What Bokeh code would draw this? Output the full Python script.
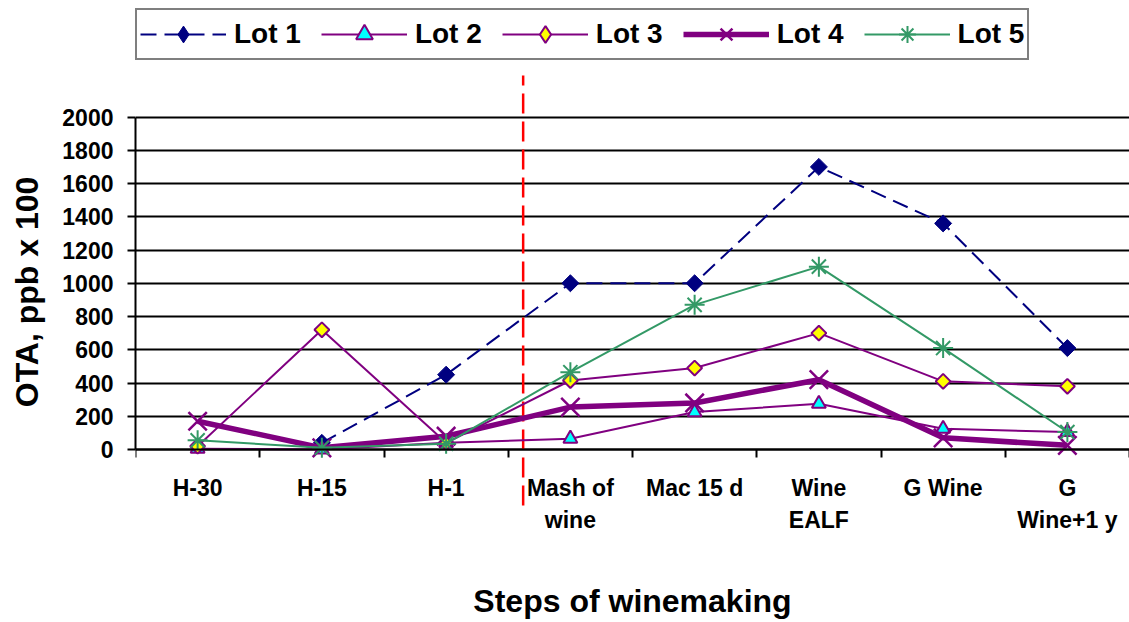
import math
from bokeh.plotting import figure
from bokeh.models import (Range1d, LinearAxis, FixedTicker, Legend, LegendItem, Title)
from bokeh.embed import file_html
from bokeh.resources import INLINE

# ---------------- data ----------------
steps = ["H-30", "H-15", "H-1", "Mash of\nwine", "Mac 15 d", "Wine\nEALF", "G Wine", "G\nWine+1 y"]
lot1 = [float("nan"), 40, 450, 1000, 1000, 1700, 1360, 610]
lot2 = [5, 0, 40, 65, 225, 275, 125, 105]
lot3 = [20, 720, 40, 415, 490, 700, 410, 380]
lot4 = [170, 10, 80, 255, 280, 420, 70, 25]
lot5 = [55, 10, 35, 465, 870, 1100, 610, 105]
series_names = ["Lot 1", "Lot 2", "Lot 3", "Lot 4", "Lot 5"]
y_ticks = [0, 200, 400, 600, 800, 1000, 1200, 1400, 1600, 1800, 2000]
y_label = "OTA,  ppb x 100"
x_label = "Steps of winemaking"
divider_at = 3.12          # red dashed divider, in category units
divider_span = (-337, 2250)

# category slot centres (category i occupies [i, i+1])
xc = [i + 0.5 for i in range(len(steps))]

# ---------------- style ----------------
FONT = "Liberation Sans"
NAVY = "#000080"
PURPLE = "#800080"
GREEN = "#339966"
CYAN = "#00FFFF"
YELLOW = "#FFFF00"

p = figure(x_range=Range1d(0, len(steps)),
           y_range=Range1d(-751.9, 2700.8),
           frame_width=994, frame_height=574,
           min_border_left=135, min_border_right=0, min_border_top=0, min_border_bottom=0,
           output_backend="svg", toolbar_location=None,
           background_fill_color="white", border_fill_color="white")
p.outline_line_color = None

# red divider
p.segment(x0=[divider_at], y0=[divider_span[0]], x1=[divider_at], y1=[divider_span[1]],
          line_color="#FF0000", line_width=2.5, line_dash="20 8")

# series
r1l = p.line(xc, lot1, line_color=NAVY, line_width=2, line_dash="16 8")
r1s = p.scatter(xc, lot1, marker="square", angle=math.pi / 4, size=12,
                fill_color=NAVY, line_color=NAVY)
r1k = p.scatter(xc, lot1, marker="diamond", fill_color=NAVY, line_color=NAVY,
                visible=False)  # legend key only
r2l = p.line(xc, lot2, line_color=PURPLE, line_width=2)
r2s = p.scatter(xc, lot2, marker="triangle", size=14, fill_color=CYAN,
                line_color=PURPLE, line_width=2)
r3l = p.line(xc, lot3, line_color=PURPLE, line_width=2)
r3s = p.scatter(xc, lot3, marker="square", angle=math.pi / 4, size=10.5,
                fill_color=YELLOW, line_color=PURPLE, line_width=2)
r3k = p.scatter(xc, lot3, marker="diamond", fill_color=YELLOW, line_color=PURPLE,
                line_width=2, visible=False)  # legend key only
r4l = p.line(xc, lot4, line_color=PURPLE, line_width=5.5)
r4s = p.scatter(xc, lot4, marker="x", size=26, line_color=PURPLE, line_width=2.5)
r5l = p.line(xc, lot5, line_color=GREEN, line_width=2)
r5s = p.scatter(xc, lot5, marker="asterisk", size=20, line_color=GREEN, line_width=2)

# y axis
ya = p.yaxis[0]
ya.ticker = FixedTicker(ticks=y_ticks)
ya.bounds = (0, 2000)
ya.axis_line_width = 2
ya.axis_line_color = "black"
ya.major_tick_line_width = 2
ya.major_tick_in = 0
ya.major_tick_out = 8
ya.minor_tick_line_color = None
ya.major_label_standoff = 14
ya.major_label_text_font = FONT
ya.major_label_text_font_size = "23px"
ya.major_label_text_font_style = "bold"
ya.major_label_text_color = "black"
ya.axis_label = y_label
ya.axis_label_text_font = FONT
ya.axis_label_text_font_size = "32px"
ya.axis_label_text_font_style = "bold"
ya.axis_label_text_color = "black"
ya.axis_label_standoff = 14

p.ygrid[0].ticker = FixedTicker(ticks=y_ticks)
p.ygrid.grid_line_color = "black"
p.ygrid.grid_line_width = 2
p.xgrid.grid_line_color = None

# x axis with category labels (no tick marks) at y = 0
xa = p.xaxis[0]
xa.ticker = FixedTicker(ticks=xc)
xa.major_label_overrides = {c: s for c, s in zip(xc, steps)}
xa.fixed_location = 0
xa.axis_line_color = None
xa.major_tick_line_color = None
xa.major_tick_in = 0
xa.major_tick_out = 0
xa.minor_tick_line_color = None
xa.major_label_standoff = 26
xa.major_label_text_font = FONT
xa.major_label_text_font_size = "23px"
xa.major_label_text_font_style = "bold"
xa.major_label_text_color = "black"

# boundary ticks axis at y = 0
ta = LinearAxis(ticker=FixedTicker(ticks=list(range(len(steps) + 1))),
                fixed_location=0, axis_line_width=2, axis_line_color="black",
                major_tick_line_width=2, major_tick_in=0, major_tick_out=8,
                minor_tick_line_color=None, major_label_text_color=None)
p.add_layout(ta, "below")

p.add_layout(Title(text=x_label, align="center", text_font=FONT, text_font_size="32px",
                   text_font_style="bold", text_color="black", standoff=12), "below")

renderers = [[r1l, r1k], [r2l, r2s], [r3l, r3k], [r4l, r4s], [r5l, r5s]]
legend = Legend(items=[LegendItem(label=n, renderers=r) for n, r in zip(series_names, renderers)],
                location=(0, 514), orientation="horizontal",
                border_line_color="black", border_line_width=2,
                background_fill_color="white", background_fill_alpha=1,
                inactive_fill_alpha=0,
                label_text_font=FONT, label_text_font_size="28px",
                label_text_font_style="bold", label_text_color="black",
                glyph_width=86, glyph_height=42, label_standoff=8,
                spacing=20, padding=3, margin=0)
p.add_layout(legend)

open("out.html", "w").write(file_html(p, INLINE))
